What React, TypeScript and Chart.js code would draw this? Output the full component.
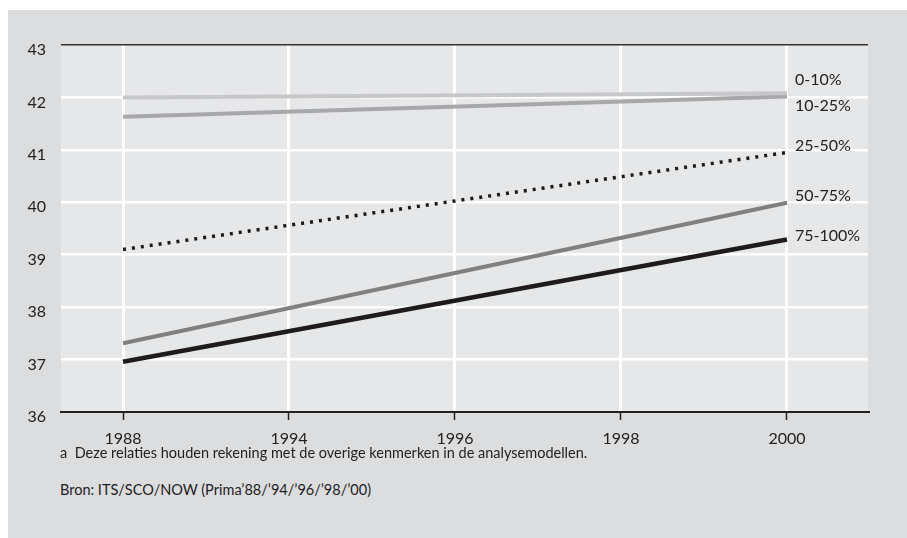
import React, { useEffect, useRef } from "react";
import { Chart, registerables } from "chart.js";

Chart.register(...registerables);

const years = ["1988", "1994", "1996", "1998", "2000"];
const seriesNames = ["0-10%", "10-25%", "25-50%", "50-75%", "75-100%"];
const s0to10 = [42.0, null, null, null, 42.08];
const s10to25 = [41.63, null, null, null, 42.02];
const s25to50 = [39.1, null, null, null, 40.95];
const s50to75 = [37.31, null, null, null, 39.99];
const s75to100 = [36.96, null, null, null, 39.29];
const yTicks = [36, 37, 38, 39, 40, 41, 42, 43];
const footnote = "a  Deze relaties houden rekening met de overige kenmerken in de analysemodellen.";
const source = "Bron: ITS/SCO/NOW (Prima’88/’94/’96/’98/’00)";

const FONT = "Lato, 'Open Sans', sans-serif";
const labelOffsets = [-13, 9, -7, -7, -4];

export default function App() {
  const ref = useRef<HTMLCanvasElement | null>(null);

  useEffect(() => {
    if (!ref.current) return;
    const all = [s0to10, s10to25, s25to50, s50to75, s75to100];
    const colors = ["#c6c7c9", "#a7a8aa", "#1a1a1a", "#808080", "#1f1a1b"];
    const widths = [4, 4, 3.5, 4, 4.5];
    const datasets = all.map((arr, i) => ({
      label: seriesNames[i],
      data: arr.map((v, j) => ({ x: j, y: v })),
      borderColor: colors[i],
      backgroundColor: colors[i],
      borderWidth: widths[i],
      borderDash: i === 2 ? [3, 6] : [],
      borderCapStyle: "butt" as const,
      pointRadius: 0,
      spanGaps: true,
      tension: 0,
    }));

    const bgPlugin = {
      id: "plotBg",
      beforeDraw(chart: any) {
        const { ctx, chartArea } = chart;
        ctx.save();
        ctx.fillStyle = "#e6e7e9";
        ctx.fillRect(chartArea.left, chartArea.top, chartArea.right - chartArea.left, chartArea.bottom - chartArea.top);
        ctx.restore();
      },
    };

    const endLabels = {
      id: "endLabels",
      afterDatasetsDraw(chart: any) {
        const { ctx } = chart;
        ctx.save();
        ctx.font = `16px ${FONT}`;
        ctx.fillStyle = "#222";
        ctx.textAlign = "left";
        ctx.textBaseline = "middle";
        chart.data.datasets.forEach((ds: any, i: number) => {
          const meta = chart.getDatasetMeta(i);
          const pt = meta.data[meta.data.length - 1];
          ctx.fillText(ds.label, pt.x + 8, pt.y + labelOffsets[i]);
        });
        ctx.restore();
      },
    };

    const chart = new Chart(ref.current, {
      type: "line",
      data: { datasets },
      plugins: [bgPlugin, endLabels],
      options: {
        animation: false,
        responsive: false,
        layout: { padding: { top: 35, right: 39, left: 0, bottom: 0 } },
        plugins: { legend: { display: false }, tooltip: { enabled: false } },
        scales: {
          x: {
            type: "linear",
            min: -0.3735,
            max: 4.488,
            afterBuildTicks(scale: any) {
              scale.ticks = years.map((_, i) => ({ value: i }));
            },
            afterFit(scale: any) {
              scale.height = 40;
            },
            ticks: {
              callback: (v: any) => years[v as number] ?? "",
              font: { family: FONT, size: 16 },
              color: "#222",
              padding: 9,
              maxRotation: 0,
              autoSkip: false,
            },
            grid: {
              color: "#ffffff",
              lineWidth: 3,
              tickColor: "#222",
              tickLength: 8,
              tickWidth: 1.5,
            },
            border: { display: true, color: "#222", width: 2 },
          },
          y: {
            min: 36,
            max: 43,
            afterBuildTicks(scale: any) {
              scale.ticks = yTicks.map((v) => ({ value: v }));
            },
            afterFit(scale: any) {
              scale.width = 53;
            },
            ticks: {
              font: { family: FONT, size: 16 },
              color: "#222",
              padding: 15,
              labelOffset: 5,
            },
            grid: {
              drawTicks: false,
              color: (c: any) => (c.tick && c.tick.value === 43 ? "#333" : c.tick && c.tick.value === 36 ? "rgba(0,0,0,0)" : "#ffffff"),
              lineWidth: (c: any) => (c.tick && c.tick.value === 43 ? 1.5 : 2.5),
            },
            border: { display: false },
          },
        },
      },
    });
    return () => chart.destroy();
  }, []);

  return (
    <div
      style={{
        position: "fixed",
        left: 8,
        top: 10,
        width: 920,
        height: 560,
        background: "#dcdddf",
        fontFamily: FONT,
      }}
    >
      <canvas ref={ref} width={899} height={442} style={{ display: "block" }} />
      <div style={{ position: "absolute", left: 52, top: 434, fontSize: 14.5, color: "#222", whiteSpace: "pre" }}>
        {footnote}
      </div>
      <div style={{ position: "absolute", left: 52, top: 471, fontSize: 14.5, color: "#222", whiteSpace: "pre" }}>
        {source}
      </div>
    </div>
  );
}
